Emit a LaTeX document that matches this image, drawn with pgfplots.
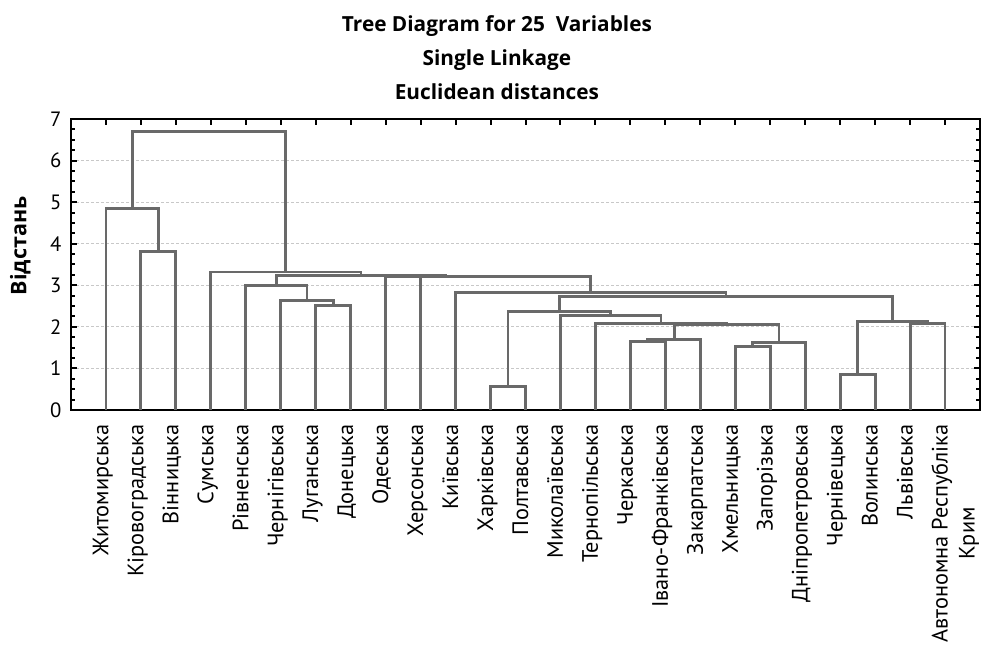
\documentclass[border=0pt]{standalone}
\usepackage{fontspec}
\setmainfont{PT Sans}
\newfontfamily\titlefont{Open Sans}
\usepackage{pgfplots}
\pgfplotsset{compat=1.18}
\definecolor{treegray}{RGB}{105,105,105}
\definecolor{gridgray}{RGB}{200,200,200}
\tikzset{tree/.style={treegray, line width=2.9pt, line join=miter, mark=none}}
\begin{document}
\begin{tikzpicture}
\useasboundingbox (-71pt,-250pt) rectangle (916pt,410pt);
\begin{axis}[
  scale only axis, width=909pt, height=291pt,
  xmin=0, xmax=26, ymin=0, ymax=7,
  xtick={1,...,25},
  xticklabels={Житомирська, Кіровоградська, Вінницька, Сумська, Рівненська, Чернігівська, Луганська, Донецька, Одеська, Херсонська, Київська, Харківська, Полтавська, Миколаївська, Тернопільська, Черкаська, Івано-Франківська, Закарпатська, Хмельницька, Запорізька, Дніпропетровська, Чернівецька, Волинська, Львівська, {\begin{tabular}[t]{@{}c@{}}Автономна Республіка\\Крим\end{tabular}}},
  xticklabel style={rotate=90, anchor=mid east, font=\fontsize{22.3}{27}\selectfont},
  xticklabel shift=11pt,
  ytick={0,...,7},
  minor y tick num=3,
  yticklabel style={font=\fontsize{20.7}{24}\selectfont},
  yticklabel shift=6pt,
  /pgf/number format/assume math mode=true,
  tick align=inside,
  major tick length=6pt, minor tick length=4pt,
  every tick/.style={black, line width=2pt},
  axis line style={black, line width=2.8pt},
  ymajorgrids,
  major grid style={gridgray, line width=0.9pt, dash pattern=on 3pt off 2pt},
  title={Tree Diagram for 25\ \ Variables\\Single Linkage\\Euclidean distances},
  every axis title/.style={at={(axis description cs:0.4686,1)}, anchor=south, yshift=16pt, align=center, font=\titlefont\bfseries\fontsize{20.8}{34}\selectfont},
  ylabel={Відстань},
  every axis y label/.style={at={(axis description cs:-0.0407,0.564)}, rotate=90, anchor=south, font=\titlefont\bfseries\fontsize{21.5}{24}\selectfont},
]
% a: Луганська + Донецька
\addplot[tree] coordinates {(7,0) (7,2.51) (8,2.51) (8,0)};
% b: Чернігівська + a
\addplot[tree] coordinates {(6,0) (6,2.64) (7.5,2.64) (7.5,2.51)};
% c: Рівненська + b
\addplot[tree] coordinates {(5,0) (5,3.00) (6.75,3.00) (6.75,2.64)};
% d: Харківська + Полтавська
\addplot[tree] coordinates {(12,0) (12,0.56) (13,0.56) (13,0)};
% e: Черкаська + Івано-Франківська
\addplot[tree] coordinates {(16,0) (16,1.64) (17,1.64) (17,0)};
% f: e + Закарпатська
\addplot[tree] coordinates {(16.5,1.64) (16.5,1.70) (18,1.70) (18,0)};
% g: Хмельницька + Запорізька
\addplot[tree] coordinates {(19,0) (19,1.52) (20,1.52) (20,0)};
% h: g + Дніпропетровська
\addplot[tree] coordinates {(19.5,1.52) (19.5,1.63) (21,1.63) (21,0)};
% i: f + h
\addplot[tree] coordinates {(17.25,1.70) (17.25,2.05) (20.25,2.05) (20.25,1.63)};
% j: Тернопільська + i
\addplot[tree] coordinates {(15,0) (15,2.07) (18.75,2.07) (18.75,2.05)};
% k: Миколаївська + j
\addplot[tree] coordinates {(14,0) (14,2.28) (16.875,2.28) (16.875,2.07)};
% l: d + k
\addplot[tree] coordinates {(12.5,0.56) (12.5,2.38) (15.4375,2.38) (15.4375,2.28)};
% m: Чернівецька + Волинська
\addplot[tree] coordinates {(22,0) (22,0.86) (23,0.86) (23,0)};
% n: Львівська + АРК
\addplot[tree] coordinates {(24,0) (24,2.08) (25,2.08) (25,0)};
% o: m + n
\addplot[tree] coordinates {(22.5,0.86) (22.5,2.12) (24.5,2.12) (24.5,2.08)};
% p: l + o
\addplot[tree] coordinates {(13.96875,2.38) (13.96875,2.72) (23.5,2.72) (23.5,2.12)};
% q: Київська + p
\addplot[tree] coordinates {(11,0) (11,2.82) (18.734,2.82) (18.734,2.72)};
% r: Херсонська + q
\addplot[tree] coordinates {(10,0) (10,3.21) (14.867,3.21) (14.867,2.82)};
% s: Одеська + r
\addplot[tree] coordinates {(9,0) (9,3.22) (12.434,3.22) (12.434,3.21)};
% t: c + s
\addplot[tree] coordinates {(5.875,3.00) (5.875,3.23) (10.717,3.23) (10.717,3.22)};
% u: Сумська + t
\addplot[tree] coordinates {(4,0) (4,3.32) (8.296,3.32) (8.296,3.23)};
% v: Кіровоградська + Вінницька
\addplot[tree] coordinates {(2,0) (2,3.81) (3,3.81) (3,0)};
% w: Житомирська + v
\addplot[tree] coordinates {(1,0) (1,4.84) (2.5,4.84) (2.5,3.81)};
% x: w + u
\addplot[tree] coordinates {(1.75,4.84) (1.75,6.71) (6.148,6.71) (6.148,3.32)};
\end{axis}
\end{tikzpicture}
\end{document}
